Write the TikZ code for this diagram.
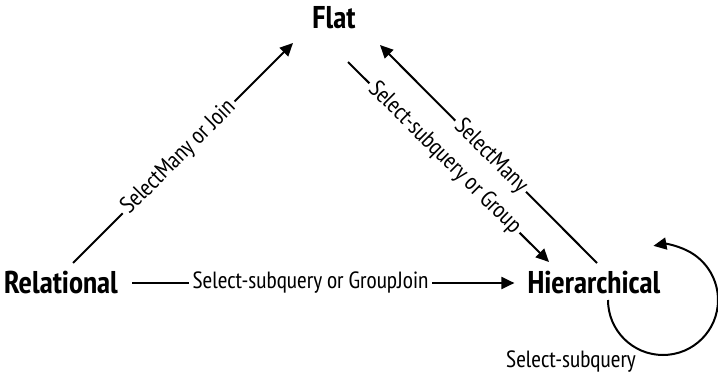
\documentclass[tikz,border=0pt]{standalone}
\usepackage{fontspec}
\setmainfont{PT Sans Narrow}
\usetikzlibrary{arrows.meta}

\begin{document}
\begin{tikzpicture}
		[
			x=1pt, y=-1pt,
			model/.style={font=\bfseries\fontsize{31.5}{31.5}\selectfont, inner sep=0pt},
			query/.style={font=\fontsize{23.5}{23.5}\selectfont, fill=white, inner sep=3.5pt},
			flow/.style={line width=2pt, -{Triangle[length=13pt, width=12pt]}},
		]
		\useasboundingbox (0,0) rectangle (718,377);

		% Nodes
		\foreach \name/\text/\x/\y in
		{
			flat/Flat/334/18,
			rel/Relational/61/283,
			hier/Hierarchical/594/283
		}
			\node[model] (\name) at (\x,\y) {\text};

		% Queries
		\draw[flow] ([shift={(12,-20)}]rel.center) -- node[query, pos=0.48, sloped] {SelectMany or Join} ([shift={(-41,25)}]flat.center);
		\draw[flow, shorten <=14pt, shorten >=13pt] (rel.east) -- node[query, pos=0.47] {Select-subquery or GroupJoin} (hier.west);
		\draw[flow] ([shift={(3,-20)}]hier.center) -- node[query, pos=0.49, sloped] {SelectMany} ([shift={(46,27)}]flat.center);
		\draw[flow] ([shift={(14,44)}]flat.center) -- node[query, pos=0.48, sloped] {Select-subquery or Group} ([shift={(-45,-21)}]hier.center);
		\draw[flow] ([shift={(14,17)}]hier.center) arc[start angle=180, end angle=460, radius=55pt];
		\node[query, fill=none] (sub) at (571,362) {Select-subquery};

\end{tikzpicture}
\end{document}
